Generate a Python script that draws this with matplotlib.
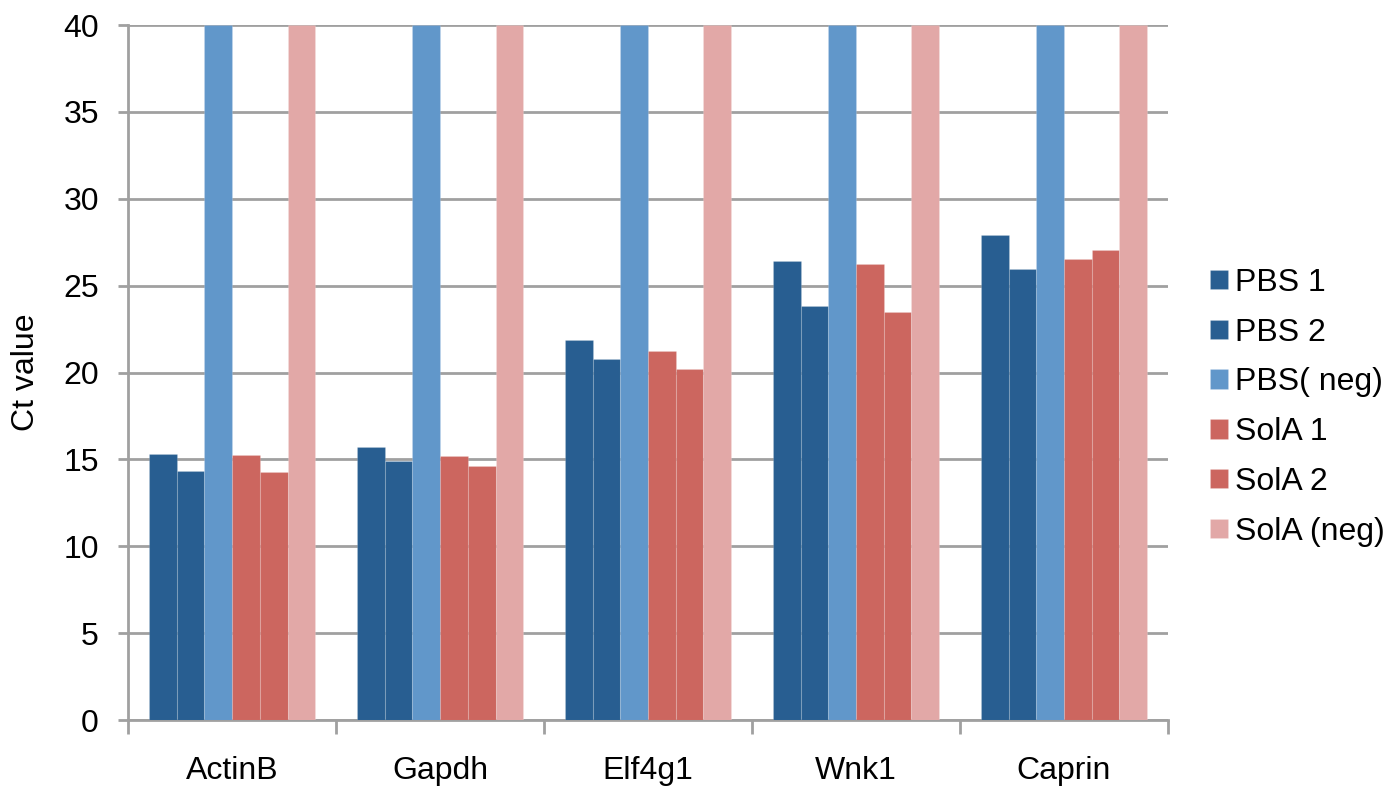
import numpy as np
import matplotlib.pyplot as plt

plt.rcParams['font.family'] = ['Liberation Sans', 'DejaVu Sans']

# Ct values per gene for each sample
genes = ['ActinB', 'Gapdh', 'Elf4g1', 'Wnk1', 'Caprin']
pbs_1 = [15.32, 15.69, 21.88, 26.44, 27.90]
pbs_2 = [14.31, 14.89, 20.80, 23.81, 25.98]
pbs_neg = [40, 40, 40, 40, 40]
sola_1 = [15.27, 15.20, 21.24, 26.27, 26.56]
sola_2 = [14.28, 14.62, 20.18, 23.47, 27.07]
sola_neg = [40, 40, 40, 40, 40]

series = [
    ('PBS 1', pbs_1, '#285E91'),
    ('PBS 2', pbs_2, '#285E91'),
    ('PBS( neg)', pbs_neg, '#6197CA'),
    ('SolA 1', sola_1, '#CC665F'),
    ('SolA 2', sola_2, '#CC665F'),
    ('SolA (neg)', sola_neg, '#E2A8A7'),
]

fig = plt.figure(figsize=(13.86, 7.87), dpi=100)
ax = fig.add_axes([0.0924, 0.0851, 0.7503, 0.8831])

x = np.arange(len(genes))
width = 0.8 / len(series)
for i, (name, vals, color) in enumerate(series):
    ax.bar(x - 0.4 + width * (i + 0.5), vals, width, color=color,
           edgecolor=(1, 1, 1, 0.15), linewidth=0.8, label=name, zorder=3)

ax.set_xlim(-0.5, len(genes) - 0.5)
ax.set_ylim(0, 40)
ax.set_yticks(range(0, 41, 5))
ax.yaxis.grid(True, color='#A0A0A0', linewidth=2, zorder=0)
ax.set_axisbelow(True)

for side in ['top', 'right']:
    ax.spines[side].set_visible(False)
for side in ['left', 'bottom']:
    ax.spines[side].set_color('#A0A0A0')
    ax.spines[side].set_linewidth(2)

ax.set_xticks(x)
ax.set_xticklabels(genes)
ax.set_xticks(np.arange(-0.5, len(genes)), minor=True)
ax.tick_params(axis='x', which='major', length=0, pad=26, labelsize=23)
ax.tick_params(axis='x', which='minor', length=10, width=2, color='#A0A0A0')
ax.tick_params(axis='y', length=7, width=2, color='#A0A0A0', pad=14, labelsize=23)

ax.set_ylabel('Ct value', fontsize=23, labelpad=16)

ax.legend(loc='center left', bbox_to_anchor=(1.013, 0.45), frameon=False,
          fontsize=23, handlelength=0.55, handleheight=0.55, handletextpad=0.22,
          labelspacing=0.62)

plt.savefig('out.png', dpi=100)
